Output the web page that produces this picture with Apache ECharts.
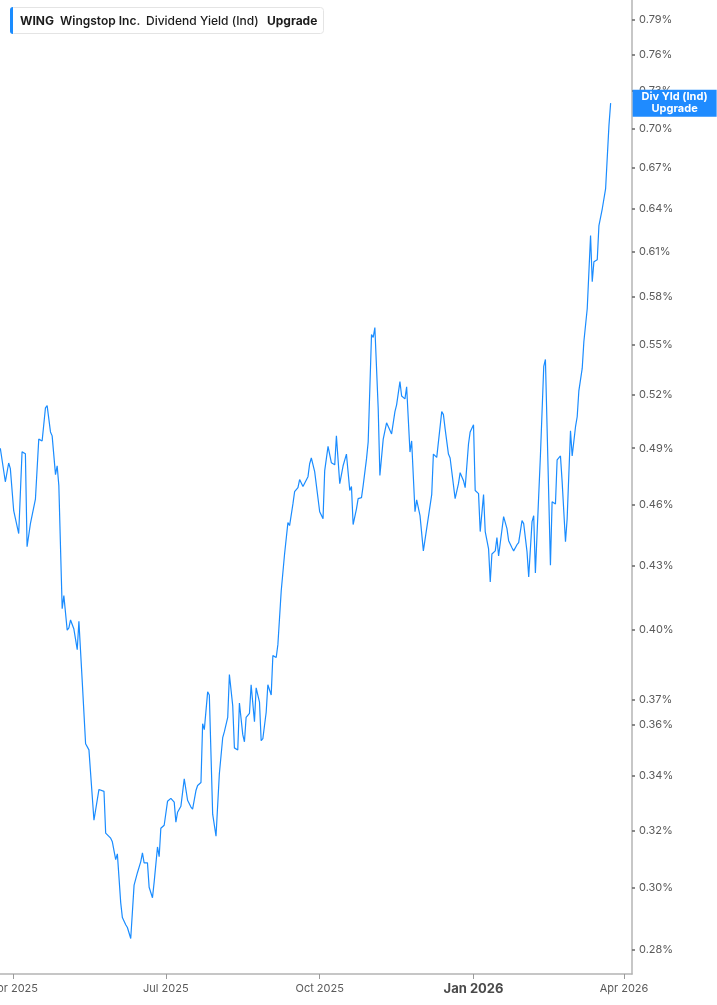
<!DOCTYPE html>
<html>
<head>
<meta charset="utf-8">
<style>
html,body{margin:0;padding:0;background:#fff;}
#chart{width:717px;height:1005px;}
</style>
<script src="https://cdn.jsdelivr.net/npm/echarts@6.0.0/dist/echarts.min.js"></script>
</head>
<body>
<div id="chart"></div>
<script>
// ---- data ----
const dates = [
'2025-03-24','2025-03-25','2025-03-27','2025-03-29','2025-03-30','2025-04-01','2025-04-02','2025-04-04','2025-04-06','2025-04-08',
'2025-04-09','2025-04-11','2025-04-14','2025-04-16','2025-04-18','2025-04-20','2025-04-21','2025-04-23','2025-04-24','2025-04-26',
'2025-04-27','2025-04-28','2025-04-30','2025-05-01','2025-05-03','2025-05-04','2025-05-05','2025-05-07','2025-05-09','2025-05-10',
'2025-05-12','2025-05-13','2025-05-14','2025-05-16','2025-05-19','2025-05-22','2025-05-23','2025-05-25','2025-05-26','2025-05-29',
'2025-05-30','2025-06-01','2025-06-02','2025-06-04','2025-06-05','2025-06-07','2025-06-08','2025-06-10','2025-06-11','2025-06-12',
'2025-06-14','2025-06-16','2025-06-17','2025-06-18','2025-06-20','2025-06-21','2025-06-23','2025-06-24','2025-06-26','2025-06-27',
'2025-06-28','2025-06-30','2025-07-02','2025-07-03','2025-07-04','2025-07-06','2025-07-07','2025-07-08','2025-07-10','2025-07-12',
'2025-07-13','2025-07-14','2025-07-16','2025-07-17','2025-07-19','2025-07-20','2025-07-22','2025-07-23','2025-07-24','2025-07-26',
'2025-07-27','2025-07-29','2025-07-31','2025-08-02','2025-08-04','2025-08-05','2025-08-07','2025-08-08','2025-08-10','2025-08-11',
'2025-08-13','2025-08-14','2025-08-16','2025-08-17','2025-08-18','2025-08-20','2025-08-21','2025-08-23','2025-08-24','2025-08-26',
'2025-08-27','2025-08-28','2025-08-30','2025-08-31','2025-09-02','2025-09-03','2025-09-05','2025-09-06','2025-09-08','2025-09-10',
'2025-09-12','2025-09-13','2025-09-15','2025-09-16','2025-09-18','2025-09-19','2025-09-21','2025-09-24','2025-09-25','2025-09-26',
'2025-09-28','2025-09-29','2025-10-01','2025-10-03','2025-10-04','2025-10-06','2025-10-07','2025-10-08','2025-10-10','2025-10-11',
'2025-10-13','2025-10-14','2025-10-15','2025-10-17','2025-10-19','2025-10-20','2025-10-21','2025-10-23','2025-10-24','2025-10-26',
'2025-10-27','2025-10-29','2025-10-30','2025-11-01','2025-11-02','2025-11-03','2025-11-05','2025-11-06','2025-11-08','2025-11-10',
'2025-11-11','2025-11-13','2025-11-15','2025-11-16','2025-11-18','2025-11-19','2025-11-21','2025-11-22','2025-11-24','2025-11-25',
'2025-11-27','2025-11-28','2025-11-30','2025-12-02','2025-12-07','2025-12-08','2025-12-10','2025-12-11','2025-12-13','2025-12-14',
'2025-12-15','2025-12-17','2025-12-18','2025-12-21','2025-12-23','2025-12-24','2025-12-26','2025-12-27','2025-12-29','2025-12-30',
'2026-01-01','2026-01-02','2026-01-04','2026-01-05','2026-01-07','2026-01-08','2026-01-10','2026-01-11','2026-01-12','2026-01-14',
'2026-01-15','2026-01-16','2026-01-19','2026-01-21','2026-01-22','2026-01-24','2026-01-25','2026-01-27','2026-01-28','2026-01-30',
'2026-01-31','2026-02-02','2026-02-03','2026-02-05','2026-02-06','2026-02-07','2026-02-10','2026-02-12','2026-02-13','2026-02-16',
'2026-02-17','2026-02-19','2026-02-20','2026-02-22','2026-02-23','2026-02-25','2026-02-26','2026-02-28','2026-03-01','2026-03-03',
'2026-03-04','2026-03-05','2026-03-07','2026-03-08','2026-03-10','2026-03-12','2026-03-13','2026-03-14','2026-03-16','2026-03-17',
'2026-03-19','2026-03-20','2026-03-21','2026-03-23','2026-03-24'
];
const divYield = [
0.490,0.490,0.472,0.482,0.479,0.457,0.4575,0.4455,0.488,0.487,
0.439,0.4505,0.463,0.495,0.494,0.5126,0.5138,0.499,0.4968,0.4758,
0.4805,0.470,0.4097,0.4157,0.400,0.401,0.4046,0.4005,0.3914,0.404,
0.3777,0.377,0.3524,0.350,0.3236,0.3349,0.3356,0.3342,0.319,0.3172,
0.3159,0.3097,0.3117,0.2952,0.2903,0.288,0.2871,0.2836,0.2836,0.301,
0.3052,0.309,0.312,0.3086,0.3086,0.3003,0.2968,0.302,0.3141,0.3107,
0.3207,0.3218,0.3305,0.3298,0.3316,0.3302,0.3229,0.3265,0.3287,0.3389,
0.3393,0.3309,0.3284,0.3276,0.3345,0.3364,0.3375,0.3604,0.358,0.3734,
0.3721,0.3258,0.3179,0.3408,0.3548,0.3572,0.3629,0.3807,0.3676,0.3508,
0.350,0.3688,0.356,0.3532,0.3629,0.3646,0.3764,0.3612,0.3751,0.3692,
0.3536,0.3544,0.365,0.3764,0.3721,0.3888,0.388,0.3936,0.418,0.4355,
0.451,0.4495,0.4605,0.4668,0.4689,0.4732,0.4695,0.4747,0.4816,0.4847,
0.4774,0.4768,0.4565,0.453,0.4779,0.491,0.4905,0.4821,0.481,0.4968,
0.471,0.471,0.4805,0.4868,0.4674,0.4695,0.450,0.458,0.4632,0.4637,
0.470,0.4842,0.4934,0.5563,0.5544,0.5606,0.5121,0.4753,0.495,0.5041,
0.503,0.4979,0.5104,0.5143,0.5278,0.5194,0.5177,0.5248,0.4879,0.494,
0.4565,0.4626,0.4545,0.437,0.4653,0.4868,0.485,0.485,0.5104,0.5087,
0.5008,0.4868,0.4847,0.4632,0.471,0.4768,0.4726,0.4689,0.4923,0.499,
0.503,0.4674,0.4658,0.4465,0.4653,0.4465,0.438,0.4221,0.4355,0.437,
0.4435,0.4345,0.454,0.448,0.442,0.4385,0.437,0.440,0.441,0.452,
0.4505,0.4365,0.4245,0.4515,0.4545,0.4263,0.4858,0.5368,0.541,0.430,
0.4616,0.4605,0.4837,0.4858,0.4721,0.4415,0.453,0.4996,0.4858,0.5019,
0.5075,0.5224,0.5356,0.5519,0.5725,0.6212,0.590,0.6033,0.6047,0.6281,
0.640,0.6393,0.6546,0.7024,0.720
];
const yTicks = [0.28,0.30,0.32,0.34,0.36,0.37,0.40,0.43,0.46,0.49,0.52,0.55,0.58,0.61,0.64,0.67,0.70,0.73,0.76,0.79];
const xTicks = ['2025-04-01','2025-07-01','2025-10-01','2026-01-01','2026-04-01'];
const xRange = ['2025-03-23 19:30','2026-04-05 18:45'];
const monthNames = ['Jan','Feb','Mar','Apr','May','Jun','Jul','Aug','Sep','Oct','Nov','Dec'];

function toTime(s){
  const [dp, tp] = s.split(' ');
  const [y,m,d] = dp.split('-').map(Number);
  let hh=0, mm=0;
  if (tp) { [hh,mm] = tp.split(':').map(Number); }
  return new Date(y, m-1, d, hh, mm).getTime();
}

// ---- chart ----
const chart = echarts.init(document.getElementById('chart'), null, {renderer:'canvas'});
const seriesData = dates.map((d,i)=>[toTime(d), divYield[i]]);
const last = seriesData[seriesData.length-1];
const xTickVals = xTicks.map(toTime);

chart.setOption({
  animation:false,
  textStyle:{fontFamily:'Inter, "Noto Sans", sans-serif'},
  grid:{left:0, right:85, top:0, bottom:31, containLabel:false, outerBoundsMode:'none'},
  xAxis:{
    type:'value',
    min:toTime(xRange[0]),
    max:toTime(xRange[1]),
    axisLine:{show:true, lineStyle:{color:'#b4b4b4', width:1.5}},
    axisTick:{show:true, customValues:xTickVals, length:5, lineStyle:{color:'#9a9a9a'}},
    axisLabel:{
      customValues:xTickVals,
      color:'#5a5a5a', fontSize:11, margin:9,
      formatter:function(v){
        const d=new Date(v);
        const s=monthNames[d.getMonth()]+' '+d.getFullYear();
        return d.getMonth()===0 ? '{b|'+s+'}' : s;
      },
      rich:{b:{fontWeight:'bold', fontSize:13, color:'#4a4a4a'}}
    },
    splitLine:{show:false}
  },
  yAxis:{
    type:'log',
    position:'right',
    min:0.2726,
    max:0.8078,
    axisLine:{show:true, lineStyle:{color:'#b4b4b4', width:1.5}},
    axisTick:{show:true, customValues:yTicks, length:3, lineStyle:{color:'#666', width:1.5}},
    axisLabel:{
      customValues:yTicks,
      color:'#5a5a5a', fontSize:11, margin:7,
      formatter:function(v){return (+v).toFixed(2)+'%';}
    },
    splitLine:{show:false},
    minorTick:{show:false}
  },
  series:[{
    type:'line',
    data:seriesData,
    showSymbol:false,
    symbol:'none',
    lineStyle:{color:'#1a8cff', width:1.2},
    itemStyle:{color:'#1a8cff'},
    clip:true,
    markPoint:{
      silent:true,
      symbol:'rect',
      symbolSize:[84,27],
      symbolOffset:[64,0],
      itemStyle:{color:'#1f8bff'},
      label:{
        show:true, position:'inside',
        formatter:'Div Yld (Ind)\nUpgrade',
        color:'#fff', fontWeight:'bold', fontSize:11, lineHeight:12
      },
      data:[{coord:last, value:last[1]}]
    }
  }],
  graphic:[
    {type:'rect', shape:{x:10.5,y:7.5,width:313,height:26,r:3}, style:{fill:'#fff', stroke:'#e4e4e4', lineWidth:1}, z:10},
    {type:'rect', shape:{x:10,y:7,width:3,height:27,r:[3,0,0,3]}, style:{fill:'#1a8cff'}, z:11},
    {type:'text', x:20, y:21, style:{text:'WING', fill:'#1c1c1c', font:'bold 12px Inter', textVerticalAlign:'middle'}, z:11},
    {type:'text', x:60, y:21, style:{text:'Wingstop Inc.', fill:'#1c1c1c', font:'600 12px Inter', textVerticalAlign:'middle'}, z:11},
    {type:'text', x:146, y:21, style:{text:'Dividend Yield (Ind)', fill:'#1c1c1c', font:'500 12px Inter', textVerticalAlign:'middle'}, z:11},
    {type:'text', x:267, y:21, style:{text:'Upgrade', fill:'#1c1c1c', font:'bold 12px Inter', textVerticalAlign:'middle'}, z:11}
  ]
});
</script>
</body>
</html>
